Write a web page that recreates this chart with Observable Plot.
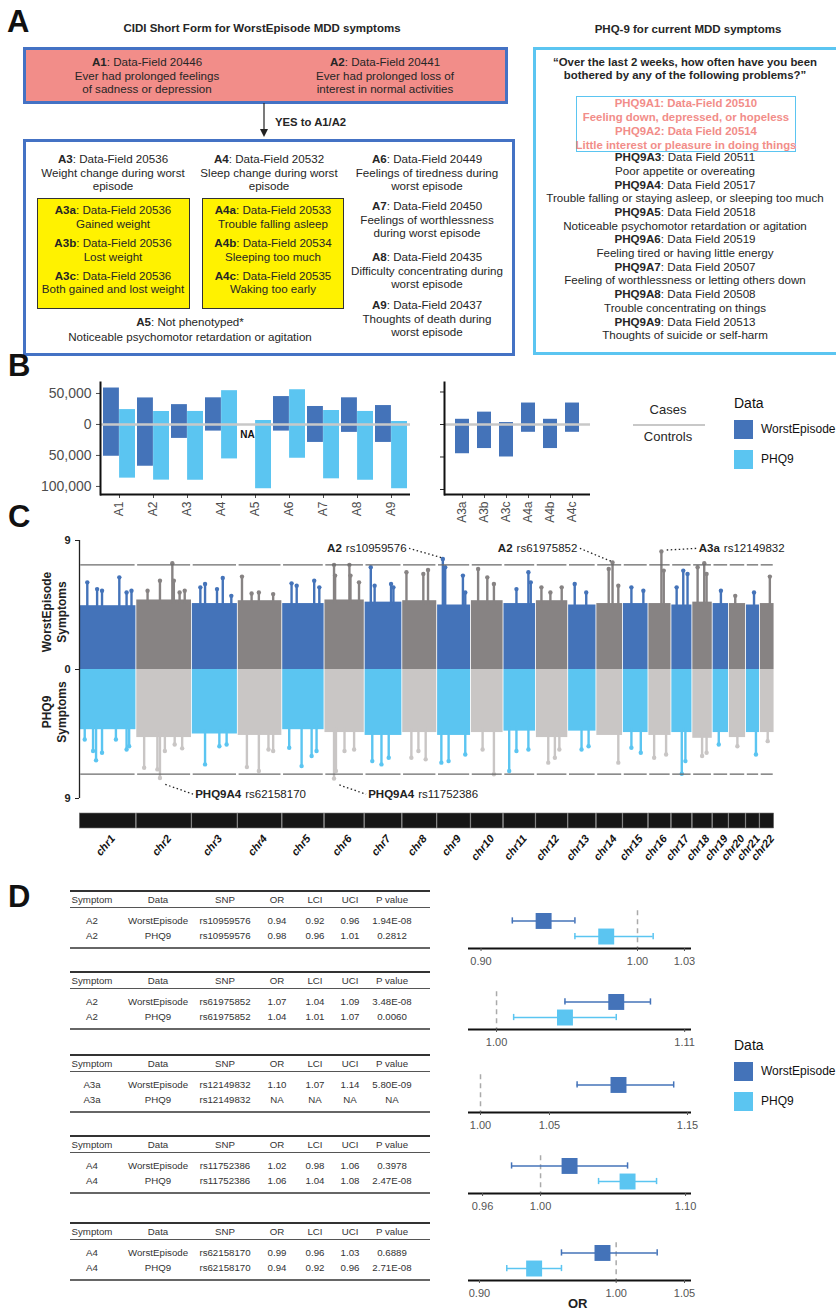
<!DOCTYPE html>
<html><head><meta charset="utf-8">
<script src="https://cdn.jsdelivr.net/npm/d3@7"></script>
<script src="https://cdn.jsdelivr.net/npm/@observablehq/plot@0.6"></script>
<style>
body{margin:0;background:#fff;}
#root{position:relative;width:836px;height:1311px;overflow:hidden;font-family:"Liberation Sans",Arial,sans-serif;color:#262626;}
#root svg{position:absolute;}
</style></head>
<body><div id="root"></div>
<script>
// ---------------- DATA ----------------
// Panel A text
const titleLeft = "CIDI Short Form for WorstEpisode MDD symptoms";
const titleRight = "PHQ-9 for current MDD symptoms";
const a1Lines = ["<b>A1</b>: Data-Field 20446","Ever had prolonged feelings","of sadness or depression"];
const a2Lines = ["<b>A2</b>: Data-Field 20441","Ever had prolonged loss of","interest in normal activities"];
const a3Lines = ["<b>A3</b>: Data-Field 20536","Weight change during worst","episode"];
const a4Lines = ["<b>A4</b>: Data-Field 20532","Sleep change during worst","episode"];
const a6Lines = ["<b>A6</b>: Data-Field 20449","Feelings of tiredness during","worst episode"];
const a7Lines = ["<b>A7</b>: Data-Field 20450","Feelings of worthlessness","during worst episode"];
const a8Lines = ["<b>A8</b>: Data-Field 20435","Difficulty concentrating during","worst episode"];
const a9Lines = ["<b>A9</b>: Data-Field 20437","Thoughts of death during","worst episode"];
const a3subLines = ["<b>A3a</b>: Data-Field 20536","Gained weight","<b>A3b</b>: Data-Field 20536","Lost weight","<b>A3c</b>: Data-Field 20536","Both gained and lost weight"];
const a4subLines = ["<b>A4a</b>: Data-Field 20533","Trouble falling asleep","<b>A4b</b>: Data-Field 20534","Sleeping too much","<b>A4c</b>: Data-Field 20535","Waking too early"];
const a5Lines = ["<b>A5</b>: Not phenotyped*","Noticeable psychomotor retardation or agitation"];
const quoteLines = ["\u201COver the last 2 weeks, how often have you been","bothered by any of the following problems?\u201D"];
const phqPinkLines = ["PHQ9A1: Data-Field 20510","Feeling down, depressed, or hopeless","PHQ9A2: Data Field 20514","Little interest or pleasure in doing things"];
const phqLines = ["<b>PHQ9A3</b>: Data Field 20511","Poor appetite or overeating","<b>PHQ9A4</b>: Data Field 20517","Trouble falling or staying asleep, or sleeping too much","<b>PHQ9A5</b>: Data Field 20518","Noticeable psychomotor retardation or agitation","<b>PHQ9A6</b>: Data Field 20519","Feeling tired or having little energy","<b>PHQ9A7</b>: Data Field 20507","Feeling of worthlessness or letting others down","<b>PHQ9A8</b>: Data Field 20508","Trouble concentrating on things","<b>PHQ9A9</b>: Data Field 20513","Thoughts of suicide or self-harm"];

// Panel B: sample sizes
const symptomsMain = ["A1","A2","A3","A4","A5","A6","A7","A8","A9"];
const weCases    = [58800, 42800, 32000, 43000, null, 45000, 29000, 43000, 30500];
const weControls = [51300, 67400, 22500, 10700, null, 10700, 29000, 12800, 29000];
const phqCases    = [24000, 20900, 21000, 54500, 6400, 56000, 22500, 21000, 4800];
const phqControls = [86600, 89800, 90000, 55600, 103700, 54500, 87700, 90000, 103700];
const symptomsSub = ["A3a","A3b","A3c","A4a","A4b","A4c"];
const subCases    = [8000, 19000, 3000, 33000, 8000, 33000];
const subControls = [45000, 37000, 50000, 12000, 37000, 12000];
const bTicks = [50000, 0, -50000, -100000];

// Panel C: Manhattan
const chrNames = ["chr1","chr2","chr3","chr4","chr5","chr6","chr7","chr8","chr9","chr10","chr11","chr12","chr13","chr14","chr15","chr16","chr17","chr18","chr19","chr20","chr21","chr22"];
const chrLengthMb = [249.3,243.2,198.0,191.2,180.9,171.1,159.1,146.4,141.2,135.5,135.0,133.9,115.2,107.3,102.5,90.4,81.2,78.1,59.1,63.0,48.1,51.3];
const weBandTop  = [4.45,4.85,4.6,4.8,4.6,4.85,4.7,4.8,4.5,4.8,4.6,4.8,4.5,4.6,4.6,4.6,4.5,4.7,4.6,4.6,4.5,4.6];
const phqBandTop = [4.2,4.75,4.5,4.6,4.2,4.4,4.6,4.4,4.6,4.4,4.3,4.75,4.3,4.6,4.4,4.6,4.4,4.8,4.4,4.75,4.4,4.4];
// [chromosome, position (Mb), -log10 P]
const wePeaks = [[1,28,6.08],[1,74,5.61],[1,97,5.49],[1,178,6.43],[1,212,5.38],[1,235,5.49],
 [2,44,5.49],[2,102,6.2],[2,160,7.42],[2,167,6.2],[2,194,5.38],[2,218,5.5],
 [3,31,5.73],[3,53,5.96],[3,109,5.61],[3,136,6.38],[3,176,5.14],
 [4,11,6.48],[4,56,5.3],[4,90,5.38],[4,157,5.26],
 [5,35,6.01],[5,59,5.85],[5,141,6.2],[5,165,5.73],
 [6,36,7.30],[6,41,6.55],[6,108,7.30],[6,113,6.55],[6,153,6.08],
 [7,20,7.14],[7,38,5.85],[7,115,5.96],[7,126,5.73],
 [8,11,6.78],[8,90,6.67],[8,112,6.94],
 [9,18,7.71],[9,29,7.14],[9,112,6.55],[9,123,5.38],
 [10,25,7.02],[10,68,6.43],[10,99,5.96],
 [11,52,5.61],[11,108,6.78],[11,119,6.08],
 [12,17,5.73],[12,59,5.38],[12,112,5.73],
 [13,22,5.96],[13,76,5.38],
 [14,49,7.02],[14,67,7.46],[14,94,5.85],
 [15,31,5.73],[15,87,5.49],
 [16,52,8.24],[16,63,6.9],
 [17,16,5.73],[17,47,6.9],[17,67,6.67],
 [18,16,7.14],[18,47,7.42],[18,58,6.67],
 [19,30,5.49],[20,21,5.14],[21,29,5.38],[22,38,6.48]];
const phqPeaks = [[1,16,4.88],[1,55,5.69],[1,69,6.34],[1,97,5.81],[1,162,4.88],[1,212,5.58],[1,224,5.35],
 [2,28,6.85],[2,90,6.97],[2,102,7.57],[2,125,5.69],[2,171,5.23],[2,206,5.5],
 [3,53,6.62],[3,120,5.35],[3,154,5.23],
 [4,34,6.81],[4,90,7.08],[4,135,5.58],[4,157,5.69],
 [5,24,5.46],[5,82,6.74],[5,129,6.04],[5,152,5.69],
 [6,36,7.61],[6,45,7.08],[6,85,5.69],[6,130,5.58],
 [7,27,6.39],[7,70,6.62],[7,104,6.16],
 [8,34,6.16],[8,67,5.69],[8,101,6.27],
 [9,11,6.5],[9,45,6.39],[9,123,5.93],
 [10,46,5.58],[10,99,7.31],
 [11,18,7.08],[11,52,5.69],[11,108,5.58],
 [12,49,6.5],[12,80,6.16],[12,101,5.58],
 [13,54,5.58],[13,87,5.35],
 [14,94,6.5],
 [15,31,5.46],[15,75,5.81],
 [16,18,6.16],[16,74,5.93],
 [17,40,7.27],[17,57,6.39],
 [18,37,6.04],[18,58,5.81],
 [19,20,5.23],[20,31,5.35],[21,38,5.93],[22,28,5.0]];
const gwsThreshold = 7.3; // -log10(5e-8)
// annotations
const annLabel = ["A2","A2","A3a","PHQ9A4","PHQ9A4"];
const annSnp = ["rs10959576","rs61975852","rs12149832","rs62158170","rs11752386"];
const annChr = [9,14,16,2,6];
const annPos = [18,67,52,102,36];
const annP = [1.94e-8,3.48e-8,5.8e-9,2.71e-8,2.47e-8];
const annSide = [1,1,1,-1,-1];
const annDx = [-170,-165,175,165,160];
const annLy = [8.45,8.45,8.45,8.7,8.7];

// Panel D: lead SNP table
const tSymptom = ["A2","A2","A3a","A4","A4"];
const tSnp = ["rs10959576","rs61975852","rs12149832","rs11752386","rs62158170"];
const orWE  = [0.94,1.07,1.10,1.02,0.99];
const lciWE = [0.92,1.04,1.07,0.98,0.96];
const uciWE = [0.96,1.09,1.14,1.06,1.03];
const pWE   = ["1.94E-08","3.48E-08","5.80E-09","0.3978","0.6889"];
const orPHQ  = [0.98,1.04,null,1.06,0.94];
const lciPHQ = [0.96,1.01,null,1.04,0.92];
const uciPHQ = [1.01,1.07,null,1.08,0.96];
const pPHQ   = ["0.2812","0.0060","NA","2.47E-08","2.71E-08"];
const tableHeader = ["Symptom","Data","SNP","OR","LCI","UCI","P value"];
const forestTicks = [[0.90,1.00,1.03],[1.00,1.11],[1.00,1.05,1.15],[0.96,1.00,1.10],[0.90,1.00,1.05]];
const forestDomains = [[0.892,1.0345],[0.9836,1.114],[0.9913,1.1529],[0.9503,1.1041],[0.892,1.0551]];
const seriesNames = ["WorstEpisode","PHQ9"];

// ---------------- STYLE ----------------
const C_WE = "#4473B9", C_PHQ = "#5BC5F1";
const C_TOPGREY = "#878383", C_BOTGREY = "#C9C6C5";
const FONT = "Liberation Sans, Arial, sans-serif";
const A_FS = 11.6;
const root = document.getElementById("root");

function div(style, html){ const e=document.createElement("div"); e.style.position="absolute"; Object.assign(e.style, style); if(html!=null) e.innerHTML=html; root.appendChild(e); return e; }
function lines(xc, ys, arr, opt={}){
  const lh = opt.lh||14;
  arr.forEach((t,i)=>{
    const y = Array.isArray(ys) ? ys[i] : ys + i*lh;
    div(Object.assign({left:(xc-200)+"px", width:"400px", top:(y-lh/2)+"px", height:lh+"px", lineHeight:lh+"px", textAlign:"center", whiteSpace:"nowrap", fontSize:(opt.fs||A_FS)+"px", color: opt.color||"#262626", fontWeight: opt.bold?"bold":"normal"}), t);
  });
}
function place(svg, left, top){ svg.style.position="absolute"; svg.style.left=left+"px"; svg.style.top=top+"px"; root.appendChild(svg); }
function letter(t, x, y){ div({left:x+"px", top:y+"px", fontSize:"31px", lineHeight:"31px", fontWeight:"bold", color:"#111"}, t); }
const baseStyle = {fontFamily: FONT, background:"transparent", overflow:"visible"};

// ---------------- PANEL A ----------------
letter("A", 7, 6);
lines(262, 28, [titleLeft], {bold:true, fs:11.5});
lines(688, 29, [titleRight], {bold:true, fs:11.5});
div({left:"23px", top:"47px", width:"479px", height:"51px", background:"#F28D89", border:"3px solid #4472C4"});
lines(147, 62, a1Lines, {lh:13.5});
lines(385, 62, a2Lines, {lh:13.5});
{ // arrow
  const s = document.createElementNS("http://www.w3.org/2000/svg","svg");
  s.setAttribute("width","20"); s.setAttribute("height","40");
  s.innerHTML = '<line x1="10" y1="0" x2="10" y2="30" stroke="#222" stroke-width="1.2"/><path d="M6,26 L10,34 L14,26 Z" fill="#222"/>';
  place(s, 254, 103);
}
div({left:"275px", top:"115px", fontSize:"11.3px", fontWeight:"bold", lineHeight:"14px", whiteSpace:"nowrap"}, "YES to A1/A2");
div({left:"23px", top:"139px", width:"486px", height:"211px", border:"3px solid #4472C4"});
lines(113, 159, a3Lines, {lh:13.5});
lines(269, 159, a4Lines, {lh:13.5});
lines(427, 159, a6Lines, {lh:13.5});
lines(427, 206, a7Lines, {lh:13.5});
lines(427, 257, a8Lines, {lh:13.5});
lines(427, 305, a9Lines, {lh:13.5});
div({left:"37px", top:"198px", width:"151px", height:"109px", background:"#FFF200", border:"1px solid #333"});
div({left:"202px", top:"198px", width:"140px", height:"109px", background:"#FFF200", border:"1px solid #333"});
const subYs = [210,224,243,257,276,289];
lines(113, subYs, a3subLines);
lines(273, subYs, a4subLines);
lines(190, [322,337], a5Lines);
div({left:"533px", top:"47px", width:"300px", height:"302px", border:"3px solid #5BC5F1"});
lines(685, [62,75], quoteLines, {bold:true, fs:11.4});
div({left:"576px", top:"96px", width:"218px", height:"54px", border:"1.5px solid #5BC5F1"});
lines(686, [103,117,131,145], phqPinkLines, {bold:true, color:"#F28D89", fs:11.4});
lines(685, 157, phqLines, {lh:13.7});

// ---------------- PANEL B ----------------
letter("B", 8, 350);
const fmtAbs = d => d3.format(",")(Math.abs(d));
const rowsMain = symptomsMain.flatMap((s,i)=>[
  {symptom:s, data:"WorstEpisode", cases:weCases[i], controls:weControls[i]},
  {symptom:s, data:"PHQ9", cases:phqCases[i], controls:phqControls[i]}]);
const naRows = rowsMain.filter(d=>d.cases==null);
const plotB1 = Plot.plot({
  width:450, height:160, marginLeft:100, marginRight:40, marginTop:12, marginBottom:36,
  style: baseStyle,
  x:{type:"band", domain:symptomsMain, padding:0.06},
  y:{domain:[-113000, 67700]},
  marks:[
    Plot.barY(rowsMain.filter(d=>d.data==="WorstEpisode" && d.cases!=null), {x:"symptom", y1:d=>-d.controls, y2:"cases", fill:C_WE, insetRight:16.1}),
    Plot.barY(rowsMain.filter(d=>d.data==="PHQ9"), {x:"symptom", y1:d=>-d.controls, y2:"cases", fill:C_PHQ, insetLeft:16.1}),
    Plot.ruleY([0], {stroke:"#c8c8c8", strokeWidth:2.5}),
    Plot.text(naRows, {x:"symptom", y:d=>-17000, text:()=>"NA", dx:-8, fontWeight:"bold", fontSize:10, fill:"#111"}),
    Plot.axisX({tickRotate:-90, tickSize:4, fontSize:12, color:"#4d4d4d", label:null, tickPadding:3}),
    Plot.axisY({ticks:bTicks, tickFormat:fmtAbs, tickSize:4, fontSize:14, color:"#4d4d4d", label:null}),
    Plot.ruleY([-113000], {stroke:"#111", strokeWidth:2}),
    Plot.frame({anchor:"left", stroke:"#111", strokeWidth:2})
  ]
});
place(plotB1, 0, 370);
const rowsSub = symptomsSub.map((s,i)=>({symptom:s, cases:subCases[i], controls:subControls[i]}));
const plotB2 = Plot.plot({
  width:200, height:160, marginLeft:44, marginRight:10, marginTop:12, marginBottom:36,
  style: baseStyle,
  x:{type:"band", domain:symptomsSub, padding:0.38},
  y:{domain:[-107700, 64600]},
  marks:[
    Plot.barY(rowsSub, {x:"symptom", y1:d=>-d.controls, y2:"cases", fill:C_WE}),
    Plot.ruleY([0], {stroke:"#c8c8c8", strokeWidth:2.5}),
    Plot.axisX({tickRotate:-90, tickSize:4, fontSize:12, color:"#4d4d4d", label:null, tickPadding:3}),
    Plot.axisY({ticks:bTicks, tickFormat:()=>"", tickSize:4, label:null}),
    Plot.ruleY([-107700], {stroke:"#111", strokeWidth:2}),
    Plot.frame({anchor:"left", stroke:"#111", strokeWidth:2})
  ]
});
place(plotB2, 400, 370);
// Cases/Controls key + legend
div({left:"623px", top:"402px", width:"90px", textAlign:"center", fontSize:"13px", fontFamily:"Liberation Sans Narrow, Liberation Sans", lineHeight:"16px"}, "Cases");
div({left:"633px", top:"424px", width:"72px", height:"2px", background:"#c8c8c8"});
div({left:"623px", top:"429px", width:"90px", textAlign:"center", fontSize:"13px", fontFamily:"Liberation Sans Narrow, Liberation Sans", lineHeight:"16px"}, "Controls");
function legend(top){
  div({left:"734px", top:(top-9)+"px", fontSize:"14px", lineHeight:"18px", color:"#111"}, "Data");
  [[C_WE,seriesNames[0]],[C_PHQ,seriesNames[1]]].forEach(([c,t],i)=>{
    div({left:"734px", top:(top+17+i*30)+"px", width:"19px", height:"19px", background:c});
    div({left:"761px", top:(top+18+i*30)+"px", fontSize:"12px", lineHeight:"17px", whiteSpace:"nowrap", color:"#111"}, t);
  });
}
legend(403);

// ---------------- PANEL C ----------------
letter("C", 8, 501);
const chrPad = 17;
let acc = 0;
const chroms = chrNames.map((n,i)=>{ const c={name:n, i, start:acc, end:acc+chrLengthMb[i]+chrPad, weTop:weBandTop[i], phqTop:phqBandTop[i]}; c.mid=(c.start+c.end)/2; acc=c.end; return c; });
const totalMb = acc;
const cWidth = 836 - 79 - 62;
const mbPerPx = totalMb / cWidth;
const posOf = (chr,pos)=> chroms[chr-1].start + chrPad/2 + pos;
const weP = wePeaks.map(([c,p,v])=>({x:posOf(c,p), v, base:chroms[c-1].weTop, col:(c-1)%2? C_TOPGREY : C_WE}));
const phqP = phqPeaks.map(([c,p,v])=>({x:posOf(c,p), v:-v, base:-chroms[c-1].phqTop, col:(c-1)%2? C_BOTGREY : C_PHQ}));
const measure = (t, f)=>{ const c=document.createElement("canvas").getContext("2d"); c.font=f; return c.measureText(t).width; };
const annFs = 11.5;
const fBold = `bold ${annFs}px "Liberation Sans"`, fReg = `${annFs}px "Liberation Sans"`;
const anns = annLabel.map((l,i)=>{
  const x=posOf(annChr[i],annPos[i]); const v=annSide[i]*(-Math.log10(annP[i]));
  const right = annDx[i]<0; const lx = x+annDx[i];
  const wL = measure(l,fBold)*mbPerPx, wS = measure(annSnp[i],fReg)*mbPerPx, gap = 4*mbPerPx;
  const labelX = right ? lx - wS - gap - wL : lx;
  const snpX = labelX + wL + gap;
  return {label:l, snp:annSnp[i], x, v, lx, ly:annSide[i]*annLy[i], right, labelX, snpX};
});
const plotC = Plot.plot({
  width:836, height:280, marginLeft:79, marginRight:62, marginTop:10, marginBottom:12,
  style: baseStyle,
  x:{domain:[0,totalMb], axis:null},
  y:{domain:[-9,9]},
  marks:[
    Plot.rect(chroms, {x1:d=>d.start+2, x2:d=>d.end-2, y1:0, y2:"weTop", fill:d=>d.i%2?C_TOPGREY:C_WE}),
    Plot.rect(chroms, {x1:d=>d.start+2, x2:d=>d.end-2, y1:0, y2:d=>-d.phqTop, fill:d=>d.i%2?C_BOTGREY:C_PHQ}),
    Plot.ruleX(weP, {x:"x", y1:d=>d.base-0.3, y2:"v", stroke:"col", strokeWidth:2.4}),
    Plot.dot(weP, {x:"x", y:"v", r:2.2, fill:"col"}),
    Plot.ruleX(phqP, {x:"x", y1:d=>d.base+0.3, y2:"v", stroke:"col", strokeWidth:2.4}),
    Plot.dot(phqP, {x:"x", y:"v", r:2.2, fill:"col"}),
    Plot.ruleY(chroms, {y:gwsThreshold, x1:d=>d.start+6, x2:d=>d.end-6, stroke:"#6b6b6b", strokeWidth:1.3}),
    Plot.ruleY(chroms, {y:-gwsThreshold, x1:d=>d.start+6, x2:d=>d.end-6, stroke:"#6b6b6b", strokeWidth:1.3}),
    Plot.link(anns, {x1:d=>d.x + (d.right?-8:25), y1:d=>d.v + (d.v>0?0.1:-0.45), x2:d=>d.lx + (d.right?12:-10), y2:"ly", stroke:"#222", strokeDasharray:"1.5,2.5", strokeWidth:1.3}),
    Plot.text(anns, {x:"labelX", y:"ly", text:"label", textAnchor:"start", fontSize:annFs, fontWeight:"bold", fill:"#222"}),
    Plot.text(anns, {x:"snpX", y:"ly", text:"snp", textAnchor:"start", fontSize:annFs, fill:"#222"}),
    Plot.axisY({ticks:[9,0,-9], tickFormat:d=>String(Math.abs(d)), tickSize:4, fontSize:11, fontWeight:"bold", color:"#222", label:null}),
    Plot.ruleX([0], {y1:-9, y2:9, stroke:"#222", strokeWidth:1.3})
  ]
});
place(plotC, 0, 530);
function vlabel(linesArr, cx, cy){
  div({left:(cx-60)+"px", top:(cy-16)+"px", width:"120px", height:"32px", textAlign:"center", fontSize:"12px", lineHeight:"15px", fontWeight:"bold", color:"#222", transform:"rotate(-90deg)", whiteSpace:"nowrap"}, linesArr.join("<br>"));
}
vlabel(["WorstEpisode","Symptoms"], 56, 612);
vlabel(["PHQ9","Symptoms"], 56, 712);
const plotIdeo = Plot.plot({
  width:836, height:60, marginLeft:79, marginRight:62, marginTop:5, marginBottom:40,
  style: baseStyle,
  x:{domain:[0,totalMb], axis:null},
  y:{domain:[0,1], axis:null},
  marks:[
    Plot.rect(chroms, {x1:d=>d.start+1.5, x2:d=>d.end-1.5, y1:0, y2:1, fill:"#161616", stroke:"#777", strokeWidth:0.6}),
    Plot.text(chroms, {x:"mid", y:0, text:"name", rotate:-50, textAnchor:"end", dx:5, dy:8, fontSize:11, fontWeight:"bold", fontStyle:"italic", fill:"#111"})
  ]
});
place(plotIdeo, 0, 808);

// ---------------- PANEL D ----------------
letter("D", 8, 881);
const tableTops = [891, 972, 1055, 1136, 1223];
const colX = [92,158,225,277,315,350,392];
const fmtN = v => v==null ? "NA" : v.toFixed(2);
tableTops.forEach((T,k)=>{
  div({left:"70px", top:(T-1)+"px", width:"360px", height:"1.5px", background:"#333"});
  div({left:"70px", top:(T+16)+"px", width:"360px", height:"1px", background:"#555"});
  div({left:"70px", top:(T+56)+"px", width:"360px", height:"2px", background:"#666"});
  const rowsT = [tableHeader,
    [tSymptom[k], seriesNames[0], tSnp[k], fmtN(orWE[k]), fmtN(lciWE[k]), fmtN(uciWE[k]), pWE[k]],
    [tSymptom[k], seriesNames[1], tSnp[k], fmtN(orPHQ[k]), fmtN(lciPHQ[k]), fmtN(uciPHQ[k]), pPHQ[k]]];
  const ys = [T+9, T+29.5, T+45];
  rowsT.forEach((r,ri)=> r.forEach((t,ci)=> div({left:(colX[ci]-50)+"px", width:"100px", top:(ys[ri]-6)+"px", lineHeight:"12px", textAlign:"center", fontSize:"9.7px", color:"#333", whiteSpace:"nowrap"}, t)));
  const fr = [
    {row:1, or:orWE[k], lci:lciWE[k], uci:uciWE[k], col:C_WE},
    {row:2, or:orPHQ[k], lci:lciPHQ[k], uci:uciPHQ[k], col:C_PHQ}].filter(d=>d.or!=null);
  const p = Plot.plot({
    width:236, height:64, marginLeft:8, marginRight:5, marginTop:2, marginBottom:22,
    style: baseStyle,
    x:{domain:forestDomains[k]},
    y:{domain:[2.77,0.2], axis:null},
    marks:[
      Plot.ruleX([1], {y1:0.35, y2:2.77, stroke:"#aaa", strokeDasharray:"5,4", strokeWidth:1.5}),
      Plot.ruleY(fr, {y:"row", x1:"lci", x2:"uci", stroke:"col", strokeWidth:1.5}),
      Plot.ruleX(fr, {x:"lci", y1:d=>d.row-0.2, y2:d=>d.row+0.2, stroke:"col", strokeWidth:1.5}),
      Plot.ruleX(fr, {x:"uci", y1:d=>d.row-0.2, y2:d=>d.row+0.2, stroke:"col", strokeWidth:1.5}),
      Plot.dot(fr, {x:"or", y:"row", symbol:"square", r:9, fill:"col"}),
      Plot.ruleY([2.77], {stroke:"#111", strokeWidth:2}),
      Plot.axisX({ticks:forestTicks[k], tickFormat:d=>d.toFixed(2), tickSize:3, fontSize:11, color:"#555", label:null})
    ]
  });
  place(p, 460, T+15);
});
div({left:"568px", top:"1296px", fontSize:"13px", fontWeight:"bold", lineHeight:"15px", color:"#222"}, "OR");
legend(1045);
</script></body></html>
